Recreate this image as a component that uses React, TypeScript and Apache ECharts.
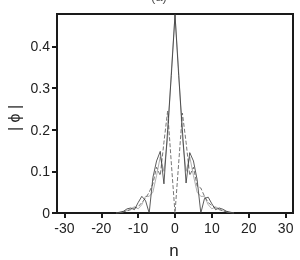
import React, { useEffect, useRef } from "react";
import * as echarts from "echarts";

const nValues = [-16,-15,-14,-13,-12,-11,-10,-9,-8,-7,-6,-5,-4,-3,-2,-1,0,1,2,3,4,5,6,7,8,9,10,11,12,13,14,15,16];
const solidA = [0,0.002,0.004,0.010,0.012,0.008,0.025,0.040,0.030,0.000,0.085,0.125,0.148,0.070,0.200,0.330,0.476,0.330,0.200,0.072,0.145,0.125,0.080,0.000,0.035,0.038,0.022,0.008,0.012,0.009,0.004,0.002,0];
const solidB = [0,0.001,0.003,0.006,0.010,0.015,0.010,0.020,0.040,0.040,0.050,0.090,0.135,0.100,0.180,0.340,0.476,0.340,0.180,0.100,0.135,0.090,0.050,0.040,0.040,0.020,0.010,0.015,0.010,0.005,0.003,0.001,0];
const dashedC = [0,0.001,0.003,0.005,0.008,0.012,0.015,0.025,0.035,0.050,0.070,0.110,0.090,0.170,0.245,0.120,0.000,0.120,0.240,0.170,0.090,0.110,0.065,0.060,0.040,0.025,0.018,0.012,0.008,0.005,0.003,0.001,0];
const xTicks = [-30,-20,-10,0,10,20,30];
const yTicks = [0,0.1,0.2,0.3,0.4];

const pair = (ys: number[]) => nValues.map((n, i) => [n, ys[i]]);

export default function App() {
  const ref = useRef<HTMLDivElement>(null);
  useEffect(() => {
    const chart = echarts.init(ref.current!, null, { renderer: "svg" });
    const font = "'Liberation Sans', Arial, sans-serif";
    chart.setOption({
      animation: false,
      grid: { left: 57, right: 7, top: 14, bottom: 47, show: true, borderColor: "#1a1a1a", borderWidth: 2, backgroundColor: "transparent" },
      xAxis: {
        type: "value", min: -32, max: 32,
        axisLine: { show: true, onZero: false, lineStyle: { color: "#1a1a1a", width: 2 } },
        axisTick: { show: true, length: 5, lineStyle: { color: "#1a1a1a", width: 2 }, customValues: xTicks },
        axisLabel: { color: "#222", fontSize: 14, fontFamily: font, margin: 8, customValues: xTicks, formatter: (v: number) => String(v) },
        splitLine: { show: false },
      },
      yAxis: {
        type: "value", min: 0, max: 0.478,
        axisLine: { show: true, onZero: false, lineStyle: { color: "#1a1a1a", width: 2 } },
        axisTick: { show: true, length: 5, lineStyle: { color: "#1a1a1a", width: 2 }, customValues: yTicks },
        axisLabel: { color: "#222", fontSize: 14, fontFamily: font, margin: 7, customValues: yTicks, formatter: (v: number) => (v === 0 ? "0" : String(Math.round(v * 10) / 10)) },
        splitLine: { show: false },
      },
      graphic: [
        { type: "text", x: 14, y: 118, rotation: Math.PI / 2, style: { text: "| ϕ |", fontSize: 16, fontFamily: font, fill: "#222", align: "center", verticalAlign: "middle" } },
        { type: "text", x: 174, y: 250, style: { text: "n", fontSize: 17, fontFamily: font, fill: "#222", align: "center", verticalAlign: "middle" } },
        { type: "text", x: 159, y: 3, style: { text: "(a)", fontSize: 13, fontFamily: font, fill: "#555", align: "center", verticalAlign: "bottom" } },
      ],
      series: [
        { type: "line", data: pair(solidB), showSymbol: false, lineStyle: { color: "#9a9a9a", width: 0.8 }, z: 2 },
        { type: "line", data: pair(dashedC), showSymbol: false, lineStyle: { color: "#666", width: 0.9, type: [4, 2] }, z: 3 },
        { type: "line", data: pair(solidA), showSymbol: false, lineStyle: { color: "#333", width: 0.8 }, z: 4 },
      ],
    });
    return () => chart.dispose();
  }, []);
  return <div ref={ref} style={{ position: "fixed", left: 0, top: 0, width: 300, height: 260 }} />;
}
